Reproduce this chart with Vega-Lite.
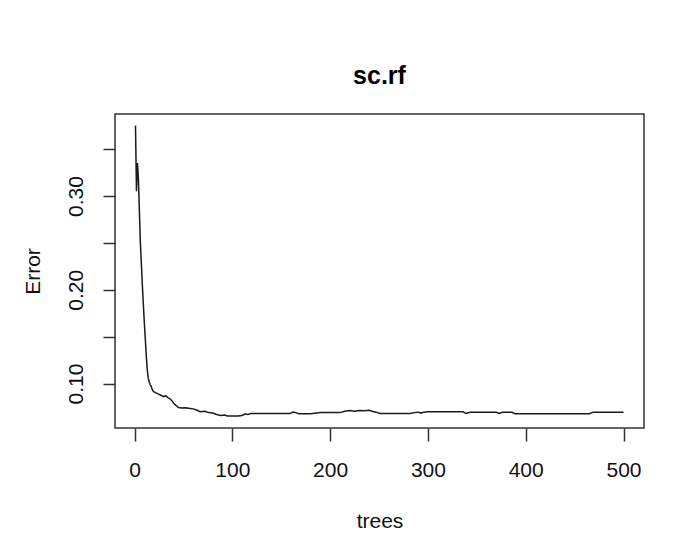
{
  "$schema": "https://vega.github.io/schema/vega-lite/v6.json",
  "autosize": "none",
  "width": 529,
  "height": 314,
  "padding": {"left": 115, "top": 114, "right": 37, "bottom": 116},
  "background": "white",
  "title": {
    "text": "sc.rf",
    "font": "Liberation Sans",
    "fontSize": 25,
    "fontWeight": "bold",
    "color": "#000000",
    "anchor": "middle",
    "baseline": "alphabetic",
    "offset": 5
  },
  "data": {
    "values": [
      {"trees": 1, "error": 0.375}, {"trees": 2, "error": 0.305}, {"trees": 3, "error": 0.335},
      {"trees": 4, "error": 0.318}, {"trees": 5, "error": 0.283}, {"trees": 6, "error": 0.25},
      {"trees": 7, "error": 0.228}, {"trees": 8, "error": 0.205}, {"trees": 9, "error": 0.185},
      {"trees": 10, "error": 0.165}, {"trees": 11, "error": 0.148}, {"trees": 12, "error": 0.13},
      {"trees": 13, "error": 0.115}, {"trees": 14, "error": 0.106}, {"trees": 15, "error": 0.102},
      {"trees": 16, "error": 0.099}, {"trees": 17, "error": 0.097}, {"trees": 18, "error": 0.094},
      {"trees": 19, "error": 0.092}, {"trees": 20, "error": 0.091}, {"trees": 22, "error": 0.09},
      {"trees": 24, "error": 0.089}, {"trees": 26, "error": 0.088}, {"trees": 28, "error": 0.087},
      {"trees": 30, "error": 0.086}, {"trees": 32, "error": 0.087}, {"trees": 34, "error": 0.085},
      {"trees": 36, "error": 0.084}, {"trees": 38, "error": 0.082}, {"trees": 40, "error": 0.079},
      {"trees": 42, "error": 0.077}, {"trees": 45, "error": 0.0745}, {"trees": 48, "error": 0.074},
      {"trees": 52, "error": 0.0742}, {"trees": 57, "error": 0.0735}, {"trees": 60, "error": 0.073},
      {"trees": 64, "error": 0.0715}, {"trees": 67, "error": 0.07}, {"trees": 72, "error": 0.0705},
      {"trees": 76, "error": 0.069}, {"trees": 80, "error": 0.0685}, {"trees": 84, "error": 0.067},
      {"trees": 88, "error": 0.066}, {"trees": 92, "error": 0.0665}, {"trees": 95, "error": 0.0655},
      {"trees": 100, "error": 0.0655}, {"trees": 106, "error": 0.0655}, {"trees": 110, "error": 0.066},
      {"trees": 113, "error": 0.0675}, {"trees": 116, "error": 0.067}, {"trees": 119, "error": 0.068},
      {"trees": 130, "error": 0.068}, {"trees": 145, "error": 0.068}, {"trees": 159, "error": 0.068},
      {"trees": 162, "error": 0.0695}, {"trees": 165, "error": 0.069}, {"trees": 168, "error": 0.0678},
      {"trees": 180, "error": 0.0678}, {"trees": 190, "error": 0.069}, {"trees": 210, "error": 0.069},
      {"trees": 215, "error": 0.0705}, {"trees": 220, "error": 0.0712}, {"trees": 225, "error": 0.0705},
      {"trees": 230, "error": 0.0712}, {"trees": 235, "error": 0.071}, {"trees": 240, "error": 0.0715},
      {"trees": 243, "error": 0.0705}, {"trees": 247, "error": 0.0695}, {"trees": 251, "error": 0.068},
      {"trees": 265, "error": 0.068}, {"trees": 282, "error": 0.068}, {"trees": 286, "error": 0.069},
      {"trees": 290, "error": 0.0695}, {"trees": 293, "error": 0.0685}, {"trees": 296, "error": 0.0695},
      {"trees": 300, "error": 0.0698}, {"trees": 320, "error": 0.0698}, {"trees": 336, "error": 0.0698},
      {"trees": 339, "error": 0.068}, {"trees": 343, "error": 0.0693}, {"trees": 360, "error": 0.0693},
      {"trees": 370, "error": 0.0693}, {"trees": 373, "error": 0.068}, {"trees": 376, "error": 0.0693},
      {"trees": 386, "error": 0.0693}, {"trees": 389, "error": 0.0678}, {"trees": 420, "error": 0.0678},
      {"trees": 465, "error": 0.0678}, {"trees": 469, "error": 0.0695}, {"trees": 485, "error": 0.0695},
      {"trees": 500, "error": 0.0695}
    ]
  },
  "mark": {"type": "line", "color": "#1a1a1a", "strokeWidth": 1.5, "interpolate": "linear"},
  "encoding": {
    "x": {
      "field": "trees",
      "type": "quantitative",
      "scale": {"domain": [-19.96, 520.96], "nice": false, "zero": false},
      "axis": {
        "title": "trees",
        "values": [0, 100, 200, 300, 400, 500],
        "format": "d",
        "grid": false,
        "domain": false,
        "tickSize": 13,
        "tickColor": "#333333",
        "tickWidth": 1.5,
        "labelPadding": 18,
        "labelFont": "Liberation Sans",
        "labelFontSize": 21,
        "labelColor": "#111111",
        "titleFont": "Liberation Sans",
        "titleFontSize": 21,
        "titleFontWeight": "normal",
        "titleColor": "#111111",
        "titlePadding": 30
      }
    },
    "y": {
      "field": "error",
      "type": "quantitative",
      "scale": {"domain": [0.0526, 0.3874], "nice": false, "zero": false},
      "axis": {
        "title": "Error",
        "values": [0.1, 0.15, 0.2, 0.25, 0.3, 0.35],
        "labelExpr": "round(datum.value*100) % 10 == 0 ? format(datum.value, '.2f') : ''",
        "grid": false,
        "domain": false,
        "tickSize": 12,
        "tickColor": "#333333",
        "tickWidth": 1.5,
        "labelAngle": -90,
        "labelAlign": "center",
        "labelBaseline": "bottom",
        "labelPadding": 17,
        "labelFont": "Liberation Sans",
        "labelFontSize": 21,
        "labelColor": "#111111",
        "titleFont": "Liberation Sans",
        "titleFontSize": 21,
        "titleFontWeight": "normal",
        "titleColor": "#111111",
        "titlePadding": 22
      }
    }
  },
  "config": {
    "view": {"stroke": "#333333", "strokeWidth": 1.5}
  }
}
